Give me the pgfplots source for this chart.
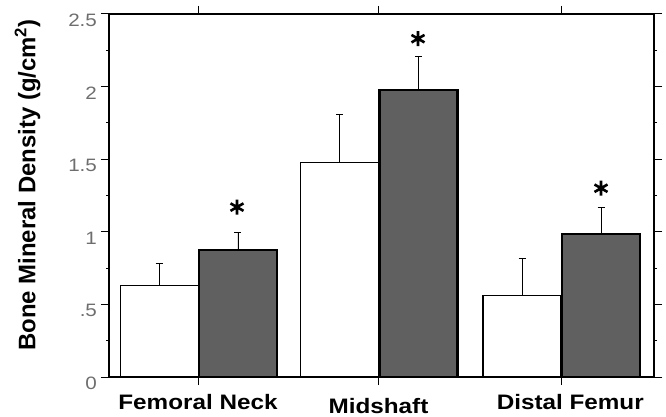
\documentclass[border=0pt]{standalone}
\usepackage{pgfplots}
\pgfplotsset{compat=1.18}
\usepackage{fontspec}
\setmainfont{Liberation Sans}
\definecolor{darkbar}{RGB}{96,96,96}
\definecolor{ticklab}{RGB}{110,110,110}
\begin{document}
\begin{tikzpicture}
\useasboundingbox (0,0) rectangle (666bp,417bp);
\begin{axis}[
  at={(109bp,40bp)}, anchor=south west,
  scale only axis, width=545bp, height=363bp,
  xmin=0, xmax=545, ymin=0, ymax=2.5,
  clip=false,
  axis line style={line width=1.6bp},
  tick align=outside,
  major tick length=8bp, minor tick length=3bp,
  tick style={line width=1bp, black},
  xtick={89,269.5,452},
  xticklabels={Femoral Neck, \raisebox{-4bp}{Midshaft}, \hspace{16bp}Distal Femur},
  xticklabel style={font=\fontsize{21}{21}\selectfont\bfseries, xscale=1.16, anchor=base, yshift=-24bp},
  ytick={0,0.5,1,1.5,2,2.5},
  yticklabels={0,.5,1,1.5,2,2.5},
  minor y tick num=1,
  yticklabel style={font=\fontsize{18}{18}\selectfont, text=ticklab, xscale=1.15, anchor=east, yshift=-6.5bp},
  ylabel={Bone Mineral Density (g/cm\textsuperscript{2})},
  ylabel style={font=\fontsize{24}{24}\selectfont\bfseries, at={([xshift=-65bp]rel axis cs:0,0.529)}, anchor=south},
]
\addplot[ybar, bar width=78, bar shift=0pt, fill=white, draw=black, line width=1.2bp,
  error bars/.cd, y dir=plus, y explicit,
  error bar style={line width=0.8bp, black},
  error mark options={rotate=90, mark size=3.5bp, line width=0.8bp, black}]
coordinates {(50.2,0.628) +- (0,0.156) (230.5,1.478) +- (0,0.332) (413,0.559) +- (0,0.255)};
\addplot[ybar, bar width=78, bar shift=0pt, fill=darkbar, draw=black, line width=2.5bp,
  error bars/.cd, y dir=plus, y explicit,
  error bar style={line width=0.8bp, black},
  error mark options={rotate=90, mark size=3.5bp, line width=0.8bp, black}]
coordinates {(128.9,0.876) +- (0,0.122) (309.5,1.975) +- (0,0.23) (492,0.986) +- (0,0.184)};
\addplot[only marks, mark=asterisk, mark size=7.5bp, mark options={line width=2.6bp, black}]
coordinates {(128,1.17) (309,2.33) (492,1.30)};
\end{axis}
\end{tikzpicture}
\end{document}
